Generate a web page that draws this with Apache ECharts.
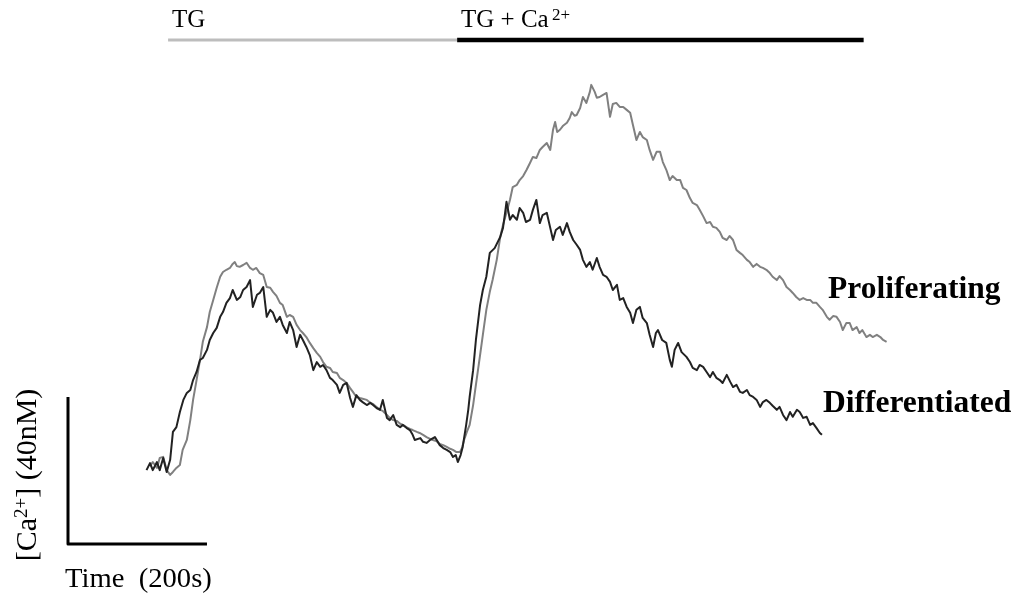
<!DOCTYPE html>
<html><head><meta charset="utf-8">
<script src="https://cdn.jsdelivr.net/npm/echarts@6/dist/echarts.min.js"></script>
<style>html,body{margin:0;padding:0;background:#fff}#c{width:1020px;height:598px}</style>
</head><body><div id="c"></div>
<script>
// time (s), [Ca2+] (nM, relative to scale-bar origin)
const differentiated = [[113,20.1],[118,22.0],[122,20.1],[128,22.3],[132,20.1],[137,23.4],[142,19.6],[147,22.9],[151,30.5],[156,31.8],[161,35.9],[166,39.2],[171,41.1],[176,41.9],[180,44.6],[185,46.8],[190,50.1],[194,50.6],[200,52.8],[204,55.5],[209,57.4],[214,58.8],[219,61.8],[223,63.1],[228,65.6],[233,66.9],[237,69.1],[243,66.4],[248,67.2],[252,69.1],[257,69.9],[262,71.8],[266,64.5],[272,67.8],[276,68.3],[281,69.9],[286,61.8],[291,63.7],[295,62.9],[300,60.4],[305,61.8],[309,59.6],[315,57.4],[319,60.4],[324,58.2],[329,53.6],[334,56.9],[338,55.5],[343,53.6],[348,51.4],[353,47.3],[358,49.5],[363,48.2],[367,48.7],[372,47.3],[377,45.2],[381,44.6],[387,43.3],[391,41.1],[396,43.3],[401,43.8],[406,39.7],[410,37.3],[415,40.5],[420,39.2],[424,38.6],[430,37.8],[435,38.4],[439,37.8],[444,37.0],[449,36.5],[453,39.2],[459,34.3],[463,33.7],[468,35.1],[473,32.4],[478,31.8],[482,32.4],[487,31.6],[492,31.0],[496,29.7],[499,28.3],[507,28.8],[511,27.8],[516,27.5],[521,28.3],[528,29.1],[535,26.9],[540,26.1],[545,25.6],[550,25.0],[554,23.7],[558,24.2],[561,22.3],[565,24.2],[568,26.4],[573,32.4],[576,36.5],[578,40.0],[583,47.3],[587,55.5],[593,65.0],[597,69.1],[602,72.7],[607,79.2],[614,80.5],[622,83.5],[626,86.0],[629,90.1],[631,93.1],[636,88.2],[640,89.5],[646,88.2],[650,91.4],[655,90.1],[659,87.6],[665,88.2],[669,90.9],[674,93.6],[679,87.3],[683,89.5],[689,90.1],[694,86.0],[698,82.7],[702,85.4],[708,86.3],[712,84.1],[718,87.3],[722,84.9],[727,82.7],[732,81.4],[737,80.0],[741,77.3],[746,75.4],[751,76.7],[755,74.6],[761,77.8],[765,75.4],[770,73.2],[775,72.7],[780,71.3],[784,69.1],[790,70.5],[794,66.4],[799,66.9],[804,64.5],[809,62.9],[813,60.1],[818,63.7],[823,64.5],[827,61.5],[833,60.1],[837,56.9],[842,53.6],[846,57.4],[849,58.2],[855,55.5],[861,54.7],[866,50.1],[869,48.2],[873,52.8],[878,54.7],[883,52.2],[890,50.9],[895,49.5],[899,47.9],[905,47.3],[909,48.7],[914,48.2],[919,46.8],[924,45.4],[928,46.8],[933,45.2],[938,44.6],[942,43.8],[948,46.0],[953,44.1],[957,42.7],[962,43.3],[967,41.4],[971,41.1],[977,41.9],[981,40.5],[986,40.0],[991,39.2],[996,37.3],[1000,38.6],[1005,39.2],[1010,38.4],[1014,37.6],[1020,36.5],[1024,37.3],[1029,35.1],[1034,33.7],[1039,35.9],[1043,34.6],[1049,36.5],[1053,35.9],[1058,34.3],[1063,34.6],[1068,32.4],[1072,32.9],[1077,31.6],[1082,30.2],[1085,29.7]];

const proliferating = [[118,21.2],[122,22.3],[128,20.7],[132,23.4],[137,23.7],[142,20.1],[147,18.8],[151,19.6],[156,20.7],[161,21.5],[165,25.6],[171,28.3],[176,33.7],[180,39.2],[185,44.6],[190,50.1],[194,55.0],[200,59.0],[204,63.1],[209,66.4],[214,69.7],[219,72.7],[223,74.0],[228,74.6],[233,75.1],[237,76.2],[240,76.7],[243,75.6],[247,75.4],[252,75.9],[257,76.5],[262,75.1],[266,74.6],[271,75.1],[276,73.7],[281,73.2],[286,69.9],[291,69.7],[295,68.6],[300,67.5],[305,65.6],[309,65.0],[315,61.8],[319,62.3],[324,61.8],[329,59.6],[334,58.2],[338,57.4],[343,56.3],[348,54.7],[353,53.3],[358,52.0],[363,50.9],[367,49.5],[372,48.2],[377,47.9],[381,46.8],[387,46.5],[391,45.2],[396,44.6],[401,43.8],[406,42.4],[410,41.4],[415,40.0],[420,39.7],[424,39.5],[430,39.2],[435,38.4],[439,38.1],[444,37.3],[449,36.5],[453,36.2],[459,35.1],[463,34.3],[468,33.7],[473,33.5],[478,32.7],[482,32.4],[487,31.8],[492,31.3],[496,31.0],[502,30.5],[506,30.2],[511,29.7],[516,29.1],[521,28.6],[525,28.3],[530,28.0],[535,27.2],[540,26.9],[545,26.4],[550,25.9],[554,25.6],[559,25.0],[564,25.0],[567,26.1],[570,28.3],[574,30.5],[578,32.4],[583,37.8],[587,43.3],[593,51.4],[597,56.9],[602,63.7],[607,68.6],[611,71.8],[617,77.3],[622,83.5],[626,86.8],[631,90.1],[636,93.6],[640,97.1],[646,97.7],[650,99.0],[655,100.1],[660,101.8],[665,103.7],[669,105.3],[674,105.0],[679,107.2],[683,108.0],[689,109.1],[694,107.2],[698,112.7],[701,114.8],[704,112.1],[708,112.7],[712,113.7],[718,114.6],[722,115.9],[725,117.5],[729,116.5],[732,116.7],[737,118.6],[741,121.6],[746,120.0],[751,123.0],[753,124.9],[758,123.0],[761,121.4],[765,121.6],[770,122.2],[775,122.7],[780,116.2],[784,119.7],[789,120.0],[794,118.9],[799,118.9],[804,118.1],[809,117.3],[813,114.0],[818,109.9],[823,112.1],[827,110.7],[833,109.9],[837,107.2],[842,104.5],[847,106.7],[852,106.7],[856,103.9],[861,101.8],[866,99.0],[870,100.1],[876,99.0],[881,99.0],[885,96.9],[890,96.3],[895,94.1],[899,92.8],[905,92.2],[909,90.9],[914,89.2],[919,87.3],[924,87.6],[928,86.3],[933,86.0],[938,84.9],[942,83.3],[948,82.7],[952,83.8],[957,82.7],[962,80.0],[967,79.2],[971,78.6],[977,77.3],[981,76.7],[986,75.4],[991,76.2],[996,75.4],[1000,75.1],[1005,74.6],[1010,73.7],[1014,72.7],[1020,71.8],[1024,72.9],[1029,71.8],[1034,69.9],[1039,69.1],[1043,68.3],[1048,67.2],[1053,66.4],[1058,66.9],[1063,66.4],[1068,66.4],[1072,65.6],[1077,65.6],[1082,64.5],[1086,63.7],[1092,61.8],[1096,61.0],[1101,62.0],[1106,61.8],[1111,60.4],[1115,58.2],[1120,60.1],[1125,60.1],[1129,58.2],[1135,59.0],[1139,57.4],[1143,58.2],[1149,56.3],[1154,56.9],[1158,56.3],[1164,56.9],[1169,56.3],[1173,55.5],[1178,55.0]];

// scale bar: 40 nM vertical, 200 s horizontal
const scaleBar = [[0,40],[0,0],[200,0]];
// treatment bars (TG alone, then TG + Ca2+)
const tgBar = [[144,137.1],[560,137.1]];
const tgCaBar = [[560,137.1],[1145,137.1]];

const serif = '"Liberation Serif", "Times New Roman", serif';
const chart = echarts.init(document.getElementById('c'), null, {renderer: 'canvas'});

function lineSeries(data, color, width, z) {
  return {type: 'line', data: data, showSymbol: false, symbol: 'none', clip: false,
    animation: false, silent: true, z: z,
    lineStyle: {color: color, width: width, cap: 'butt', join: 'round'}};
}

function txt(x, y, text, font, extra) {
  return Object.assign({type: 'text', x: x, y: y, silent: true,
    style: {text: text, font: font, fill: '#000', verticalAlign: 'middle', align: 'left'}}, extra || {});
}

chart.setOption({
  backgroundColor: '#ffffff',
  animation: false,
  grid: {left: 68, width: 952, top: 11, bottom: 54},
  xAxis: {type: 'value', min: 0, max: 1370, show: false},
  yAxis: {type: 'value', min: 0, max: 145, show: false},
  series: [
    lineSeries(proliferating, '#808080', 2, 2),
    lineSeries(differentiated, '#222222', 2, 3),
    lineSeries(scaleBar, '#000000', 3, 4),
    lineSeries(tgBar, '#bdbdbd', 3, 4),
    lineSeries(tgCaBar, '#000000', 4.5, 4)
  ],
  graphic: [
    txt(172, 20, 'TG', '25px ' + serif),
    txt(461, 20, 'TG + Ca', '25px ' + serif),
    txt(552, 16, '2+', '17px ' + serif),
    txt(828, 290, 'Proliferating', 'bold 31.5px ' + serif),
    txt(823, 403.5, 'Differentiated', 'bold 31.5px ' + serif),
    txt(65, 579.5, 'Time  (200s)', '27px ' + serif, {scaleX: 1.06}),
    {type: 'text', x: 28, y: 475, rotation: Math.PI / 2, silent: true, style: {
      text: '{b|[Ca}{s|2+}{b|] (40nM)}', align: 'center', verticalAlign: 'middle',
      rich: {b: {fontSize: 30, fontFamily: serif, fill: '#000', lineHeight: 31},
             s: {fontSize: 19, fontFamily: serif, fill: '#000', lineHeight: 19, verticalAlign: 'top'}}}}
  ]
});
</script>
</body></html>
